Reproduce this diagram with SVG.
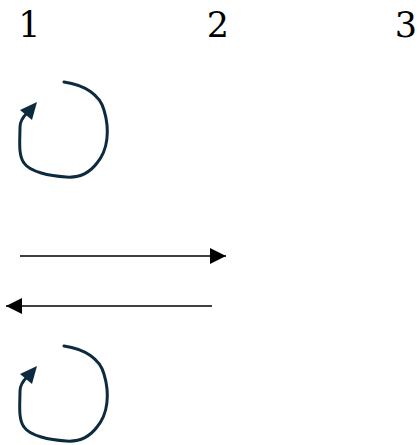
<svg xmlns="http://www.w3.org/2000/svg" width="419" height="445" viewBox="0 0 419 445">
<style>
.lbl{font-family:"DejaVu Serif","Liberation Serif",serif;font-size:35px;fill:#000;text-anchor:middle}
.loop{fill:none;stroke:#0d2b3e;stroke-width:3;stroke-linecap:round}
.head{fill:#0d2b3e}
.edge{stroke:#000;stroke-width:1.5;fill:none}
</style>
<defs>
<marker id="ah" viewBox="0 0 16 16" refX="16" refY="8" markerWidth="16" markerHeight="16" markerUnits="userSpaceOnUse" orient="auto">
<path d="M0,0 L16,8 L0,16 Z" fill="#000"/>
</marker>
</defs>
<g id="node1"><text class="lbl" x="29.5" y="37">1</text></g>
<g id="node2"><text class="lbl" x="218" y="37">2</text></g>
<g id="node3"><text class="lbl" x="406" y="37">3</text></g>
<g id="connectors">
<g id="loop1">
<path class="loop" d="M64,82 C85,85 100,95 104,110 C110,130 108,150 97,163 C88,175 78,178 66,177 C50,176 30,172 24,163 C18,155 20,140 20,127 C20,121 23,117 27,113"/>
<polygon class="head" points="37,102 20,110 32,120"/>
</g>
<line id="e12" class="edge" x1="20" y1="256" x2="226" y2="256" marker-end="url(#ah)"/>
<line id="e21" class="edge" x1="212" y1="306" x2="6" y2="306" marker-end="url(#ah)"/>
<g id="loop2" transform="translate(0,264)">
<path class="loop" d="M64,82 C85,85 100,95 104,110 C110,130 108,150 97,163 C88,175 78,178 66,177 C50,176 30,172 24,163 C18,155 20,140 20,127 C20,121 23,117 27,113"/>
<polygon class="head" points="37,102 20,110 32,120"/>
</g>
</g>
</svg>
